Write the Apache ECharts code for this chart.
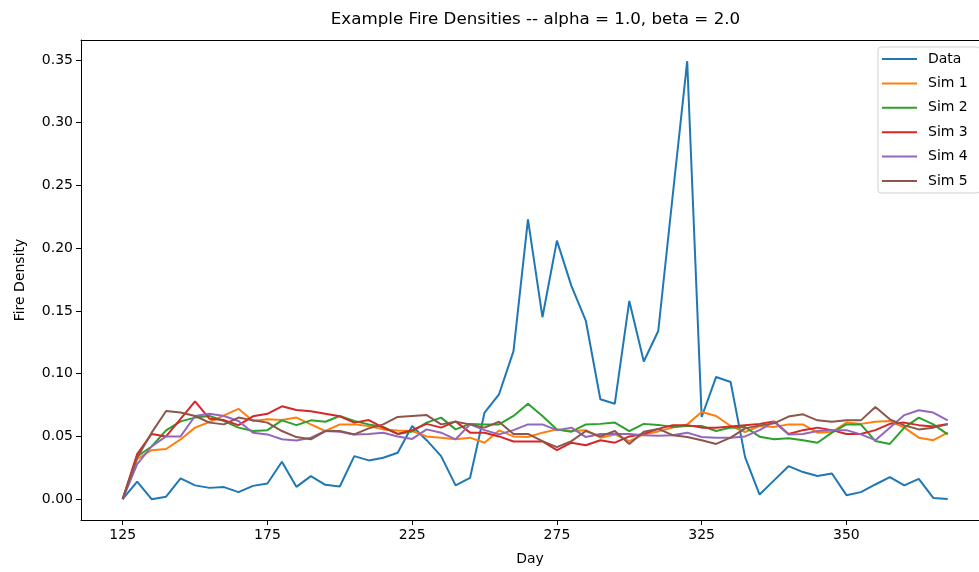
<!DOCTYPE html>
<html>
<head>
<meta charset="utf-8">
<script src="https://cdn.jsdelivr.net/npm/echarts@6/dist/echarts.min.js"></script>
<style>
html,body{margin:0;padding:0;background:#fff;}
#chart{width:979px;height:572px;}
</style>
</head>
<body>
<div id="chart"></div>
<script>
const days = [125,130,135,140,145,150,155,160,165,170,175,180,185,190,195,200,205,210,215,220,225,230,235,240,245,250,255,260,265,270,275,280,285,290,295,300,305,310,315,320,325,330,335,340,345,350,355,360,365,370,375,380,385,390,395,400,405,410];
const xTickValues = [125,175,225,275,325,375];
const xTickLabels = ["125","175","225","275","325","350"];
const yTickValues = [0,0.05,0.10,0.15,0.20,0.25,0.30,0.35];
const seriesNames = ["Data","Sim 1","Sim 2","Sim 3","Sim 4","Sim 5"];

const dataObs = [0.000,0.014,0.000,0.002,0.0165,0.011,0.009,0.0096,0.0056,0.0106,0.0125,0.0298,0.0098,0.0184,0.0114,0.0101,0.0343,0.0309,0.033,0.037,0.0583,0.047,0.0343,0.011,0.017,0.069,0.0836,0.118,0.223,0.145,0.206,0.170,0.142,0.0796,0.0761,0.158,0.1097,0.134,0.242,0.349,0.0655,0.0974,0.0934,0.0335,0.0037,0.015,0.0263,0.0216,0.0184,0.0205,0.0032,0.0056,0.0117,0.0176,0.011,0.0162,0.001,0.0002];
const sim1 = [0,0.032,0.039,0.040,0.0476,0.057,0.0615,0.0668,0.072,0.0623,0.0636,0.063,0.065,0.0596,0.0543,0.0596,0.0596,0.0583,0.0556,0.0548,0.0543,0.050,0.049,0.0477,0.049,0.045,0.0548,0.050,0.0495,0.053,0.0556,0.0543,0.055,0.049,0.0516,0.0463,0.0516,0.054,0.057,0.0596,0.0695,0.0663,0.0583,0.0535,0.0583,0.0575,0.0596,0.0596,0.053,0.0535,0.061,0.060,0.0617,0.0623,0.057,0.049,0.047,0.053];
const sim2 = [0,0.034,0.042,0.0548,0.062,0.065,0.0663,0.0623,0.057,0.0543,0.055,0.0628,0.059,0.0628,0.0617,0.0663,0.0623,0.0596,0.0575,0.052,0.054,0.061,0.065,0.0556,0.060,0.0596,0.0596,0.0663,0.076,0.0663,0.0556,0.0538,0.0596,0.060,0.061,0.0543,0.060,0.0592,0.0575,0.0583,0.0583,0.0543,0.057,0.0575,0.0498,0.0477,0.0485,0.047,0.045,0.053,0.0596,0.0596,0.0463,0.044,0.057,0.065,0.0596,0.0516];
const sim3 = [0,0.036,0.052,0.050,0.064,0.078,0.064,0.063,0.059,0.066,0.068,0.074,0.071,0.070,0.068,0.066,0.061,0.063,0.057,0.052,0.055,0.060,0.057,0.062,0.053,0.053,0.050,0.046,0.046,0.046,0.039,0.045,0.043,0.047,0.045,0.050,0.052,0.056,0.059,0.059,0.057,0.057,0.058,0.059,0.060,0.062,0.052,0.055,0.057,0.055,0.052,0.052,0.055,0.060,0.061,0.059,0.058,0.060];
const sim4 = [0,0.028,0.042,0.050,0.050,0.0663,0.068,0.0663,0.0623,0.053,0.0516,0.0477,0.0467,0.049,0.0543,0.0538,0.0516,0.052,0.053,0.050,0.048,0.0556,0.053,0.0477,0.0596,0.055,0.0516,0.055,0.0596,0.0596,0.055,0.057,0.0495,0.052,0.052,0.052,0.051,0.0505,0.051,0.053,0.0495,0.049,0.049,0.050,0.055,0.0617,0.0516,0.052,0.0543,0.055,0.055,0.0516,0.047,0.057,0.067,0.0708,0.069,0.0628];
const sim5 = [0,0.033,0.053,0.0703,0.069,0.0663,0.061,0.0596,0.065,0.0628,0.061,0.0543,0.0495,0.0477,0.0543,0.0543,0.0516,0.0564,0.0596,0.0655,0.0663,0.067,0.0596,0.0617,0.0596,0.057,0.0617,0.052,0.052,0.0463,0.0415,0.0463,0.0543,0.050,0.0543,0.044,0.0538,0.056,0.051,0.0495,0.047,0.044,0.049,0.0564,0.0588,0.0604,0.0658,0.0676,0.0628,0.0617,0.0628,0.0628,0.0735,0.0636,0.0588,0.0556,0.057,0.0596];

const colors = ['#1f77b4','#ff7f0e','#2ca02c','#d62728','#9467bd','#8c564b'];
const allValues = [dataObs, sim1, sim2, sim3, sim4, sim5];
const FONT = 'DejaVu Sans';
const X_MIN = 110.6, X_MAX = 420.8, Y_MIN = -0.0166, Y_MAX = 0.3659;

const series = allValues.map((vals, k) => ({
  name: seriesNames[k],
  type: 'line',
  xAxisIndex: 0,
  data: days.map((d, i) => [d, vals[i]]),
  showSymbol: false,
  symbol: 'none',
  lineStyle: { width: 2, color: colors[k] },
  itemStyle: { color: colors[k] },
  animation: false,
  z: 2 + k
}));

const chart = echarts.init(document.getElementById('chart'), null, { renderer: 'canvas' });
chart.setOption({
  animation: false,
  backgroundColor: '#fff',
  grid: { left: 81, top: 40, bottom: 52, right: 0, show: false, containLabel: false },
  xAxis: [{
    type: 'value', min: X_MIN, max: X_MAX, position: 'bottom',
    name: 'Day', nameLocation: 'middle', nameGap: 32,
    nameTextStyle: { fontFamily: FONT, fontSize: 14, color: '#000' },
    axisLine: { show: true, onZero: false, lineStyle: { color: '#000', width: 1 } },
    splitLine: { show: false },
    axisTick: { show: true, length: 5, lineStyle: { color: '#000', width: 1 }, customValues: xTickValues },
    axisLabel: { fontFamily: FONT, fontSize: 14, color: '#000', margin: 8, customValues: xTickValues,
      formatter: v => { const i = xTickValues.indexOf(v); return i >= 0 ? xTickLabels[i] : ''; } }
  }, {
    type: 'value', min: X_MIN, max: X_MAX, position: 'top',
    axisLine: { show: true, onZero: false, lineStyle: { color: '#000', width: 1 } },
    splitLine: { show: false }, axisTick: { show: false }, axisLabel: { show: false }
  }],
  yAxis: {
    type: 'value', min: Y_MIN, max: Y_MAX,
    name: 'Fire Density', nameLocation: 'middle', nameGap: 54,
    nameTextStyle: { fontFamily: FONT, fontSize: 14, color: '#000' },
    axisLine: { show: true, onZero: false, lineStyle: { color: '#000', width: 1 } },
    splitLine: { show: false },
    axisTick: { show: true, length: 5, lineStyle: { color: '#000', width: 1 }, customValues: yTickValues },
    axisLabel: { fontFamily: FONT, fontSize: 14, color: '#000', margin: 8, customValues: yTickValues,
      formatter: v => v.toFixed(2) }
  },
  legend: {
    data: seriesNames,
    orient: 'vertical',
    left: 878, top: 47,
    padding: [5, 12, 5, 4],
    itemGap: 10.4,
    itemWidth: 35, itemHeight: 2,
    icon: 'rect',
    borderColor: '#d0d0d0', borderWidth: 1, borderRadius: 3,
    backgroundColor: 'rgba(255,255,255,0.8)',
    textStyle: { fontFamily: FONT, fontSize: 14, color: '#000', padding: [0,0,0,6], lineHeight: 14 }
  },
  graphic: [{
    type: 'text', x: 535.5, y: 20,
    style: { text: 'Example Fire Densities -- alpha = 1.0, beta = 2.0', font: '16.7px "DejaVu Sans"', fill: '#000', textAlign: 'center', textVerticalAlign: 'middle' }
  }],
  series: series
});
</script>
</body>
</html>
